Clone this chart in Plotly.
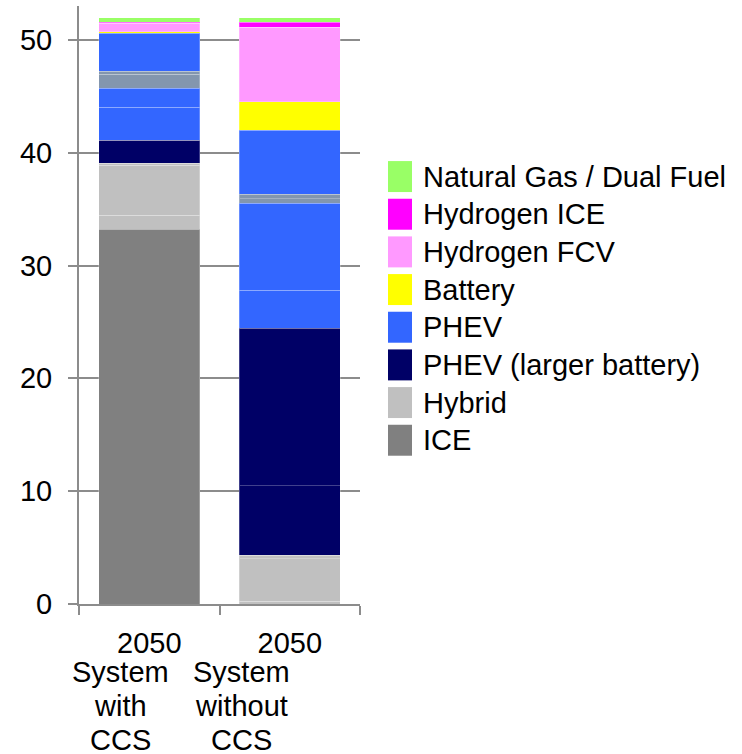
import plotly.graph_objects as go

# ---------------- data ----------------
categories = ["System with CCS", "System without CCS"]
year_labels = ["2050", "2050"]
scenario_lines = [["System", "with", "CCS"], ["System", "without", "CCS"]]

legend_names = ["Natural Gas / Dual Fuel", "Hydrogen ICE", "Hydrogen FCV", "Battery",
                "PHEV", "PHEV (larger battery)", "Hybrid", "ICE"]

# stacked segments, bottom to top
segment_series = ["ICE", "Hybrid", "Hybrid", "Hybrid",
                  "PHEV (larger battery)", "PHEV (larger battery)",
                  "PHEV", "PHEV", "PHEV (other)", "PHEV (other)", "PHEV",
                  "Battery", "Hydrogen FCV", "Hydrogen ICE", "Natural Gas / Dual Fuel"]
with_ccs = [33.23, 1.21, 4.43, 0.18, 2.03, 0.0, 2.96, 1.65, 1.27, 0.27, 3.36,
            0.12, 0.77, 0.09, 0.38]
without_ccs = [0.0, 0.25, 3.75, 0.30, 6.20, 13.96, 3.34, 7.70, 0.40, 0.40, 5.70,
               2.50, 6.60, 0.47, 0.38]

y_ticks = [0, 10, 20, 30, 40, 50]

# ---------------- styles ----------------
colors = {
    "Natural Gas / Dual Fuel": "#99FF66",
    "Hydrogen ICE": "#FF00FF",
    "Hydrogen FCV": "#FF99FF",
    "Battery": "#FFFF00",
    "PHEV": "#3366FF",
    "PHEV (other)": "#8396AE",
    "PHEV (larger battery)": "#000066",
    "Hybrid": "#C0C0C0",
    "ICE": "#808080",
}
FONT = "Liberation Sans, Arial, sans-serif"
FS = 29
AX = "#8C8C8C"

W, H = 742, 754
L, R, T, B = 79, 742 - 360, 6, 754 - 604.5
pw, ph = W - L - R, H - T - B

fig = go.Figure()
for i, name in enumerate(segment_series):
    fig.add_trace(go.Bar(
        x=categories, y=[with_ccs[i], without_ccs[i]],
        name=name, showlegend=False,
        marker=dict(color=colors[name], line=dict(color="rgba(255,255,255,0.25)", width=1)),
    ))

# manual legend (large swatches as in reference)
leg_top_px, leg_step = 176.7, 37.7
for k, name in enumerate(legend_names):
    cy = leg_top_px + k * leg_step
    y0 = (H - B - (cy + 15.5)) / ph
    y1 = (H - B - (cy - 15.5)) / ph
    x0 = (388 - L) / pw
    x1 = (412 - L) / pw
    fig.add_shape(type="rect", xref="paper", yref="paper", x0=x0, x1=x1, y0=y0, y1=y1,
                  fillcolor=colors[name], line=dict(width=0))
    fig.add_annotation(xref="paper", yref="paper", x=(421 - L) / pw, y=(H - B - cy) / ph,
                       text=name, showarrow=False, xanchor="left", yanchor="middle",
                       font=dict(family=FONT, size=FS, color="black"))

# scenario name lines under year labels
shifts = [-28.5, -48]
for c, lines in enumerate(scenario_lines):
    for j, line in enumerate(lines):
        fig.add_annotation(xref="x", yref="paper", x=categories[c], y=0,
                           text=line, showarrow=False, xanchor="center", yanchor="middle",
                           xshift=shifts[c], yshift=-(67.5 + 34 * j), borderpad=0,
                           font=dict(family=FONT, size=FS, color="black"))

fig.update_layout(
    width=W, height=H, margin=dict(l=L, r=R, t=T, b=B),
    barmode="stack", bargap=0.28,
    plot_bgcolor="white", paper_bgcolor="white",
    font=dict(family=FONT, size=FS, color="black"),
    showlegend=False,
)
fig.update_xaxes(type="category", categoryorder="array", categoryarray=categories,
                 range=[-0.5, 1.5], autorange=False,
                 tickmode="array", tickvals=categories, ticktext=year_labels,
                 tickson="boundaries", ticks="outside", ticklen=9, tickwidth=2, tickcolor=AX,
                 showline=True, linecolor=AX, linewidth=2, showgrid=False,
                 ticklabelstandoff=12,
                 tickfont=dict(family=FONT, size=FS, color="black"))
fig.update_yaxes(range=[0, 53], autorange=False, tickmode="array", tickvals=y_ticks,
                 ticks="outside", ticklen=9, tickwidth=2, tickcolor=AX,
                 showline=True, linecolor=AX, linewidth=2,
                 showgrid=True, gridcolor=AX, gridwidth=2, zeroline=False,
                 ticklabelstandoff=10,
                 tickfont=dict(family=FONT, size=FS, color="black"))

fig.write_html("out.html", config={"displayModeBar": False},
               post_script="document.body.style.margin='0';")
